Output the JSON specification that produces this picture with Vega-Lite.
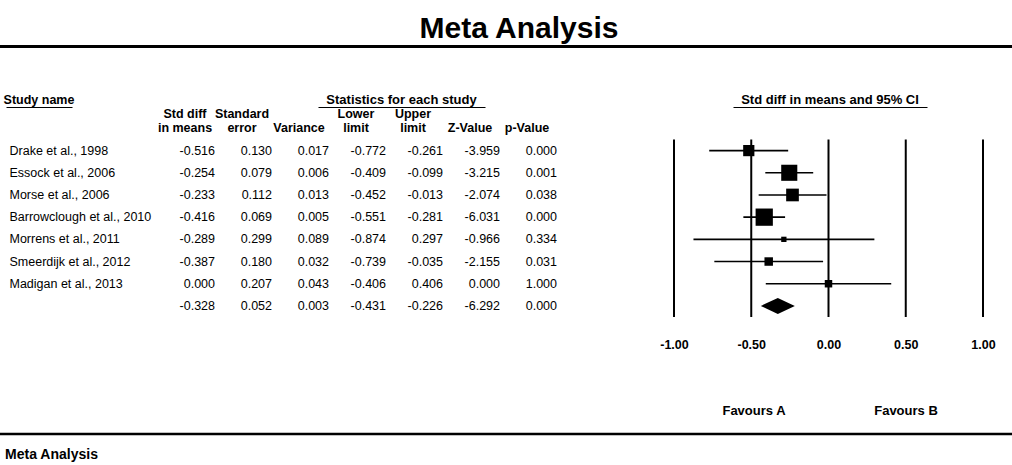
{
  "$schema": "https://vega.github.io/schema/vega-lite/v6.json",
  "width": 1012,
  "height": 465,
  "autosize": "none",
  "padding": 0,
  "background": "white",
  "config": {
    "font": "Liberation Sans",
    "view": {"stroke": null},
    "locale": {"number": {"decimal": ".", "thousands": ",", "grouping": [3], "currency": ["$", ""], "minus": "-"}},
    "text": {"color": "black"},
    "axis": {"labelColor": "black", "domainColor": "black"}
  },
  "title": {
    "text": "Meta Analysis",
    "fontSize": 30,
    "fontWeight": "bold",
    "font": "Liberation Sans",
    "color": "black",
    "anchor": "middle",
    "frame": "group",
    "orient": "top",
    "offset": -68,
    "baseline": "alphabetic",
    "dx": 13
  },
  "datasets": {
    "studies": [
      {"study": "Drake et al., 1998", "smd": -0.516, "se": 0.130, "variance": 0.017, "lower": -0.772, "upper": -0.261, "z": -3.959, "p": 0.000, "weight": 12.6},
      {"study": "Essock et al., 2006", "smd": -0.254, "se": 0.079, "variance": 0.006, "lower": -0.409, "upper": -0.099, "z": -3.215, "p": 0.001, "weight": 25.9},
      {"study": "Morse et al., 2006", "smd": -0.233, "se": 0.112, "variance": 0.013, "lower": -0.452, "upper": -0.013, "z": -2.074, "p": 0.038, "weight": 16.1},
      {"study": "Barrowclough et al., 2010", "smd": -0.416, "se": 0.069, "variance": 0.005, "lower": -0.551, "upper": -0.281, "z": -6.031, "p": 0.000, "weight": 29.8},
      {"study": "Morrens et al., 2011", "smd": -0.289, "se": 0.299, "variance": 0.089, "lower": -0.874, "upper": 0.297, "z": -0.966, "p": 0.334, "weight": 2.8},
      {"study": "Smeerdijk et al., 2012", "smd": -0.387, "se": 0.180, "variance": 0.032, "lower": -0.739, "upper": -0.035, "z": -2.155, "p": 0.031, "weight": 7.2},
      {"study": "Madigan et al., 2013", "smd": 0.000, "se": 0.207, "variance": 0.043, "lower": -0.406, "upper": 0.406, "z": 0.000, "p": 1.000, "weight": 5.6},
      {"study": "", "smd": -0.328, "se": 0.052, "variance": 0.003, "lower": -0.431, "upper": -0.226, "z": -6.292, "p": 0.000}
    ],
    "refs": [{"v": -1}, {"v": -0.5}, {"v": 0}, {"v": 0.5}, {"v": 1}],
    "columns": [
      {"key": "smd", "label": ["Std diff", "in means"]},
      {"key": "se", "label": ["Standard", "error"]},
      {"key": "variance", "label": ["", "Variance"]},
      {"key": "lower", "label": ["Lower", "limit"]},
      {"key": "upper", "label": ["Upper", "limit"]},
      {"key": "z", "label": ["", "Z-Value"]},
      {"key": "p", "label": ["", "p-Value"]}
    ]
  },
  "layer": [
    {
      "encoding": {
        "y": {
          "field": "study", "type": "nominal", "sort": null,
          "scale": {"type": "band", "domain": ["Drake et al., 1998", "Essock et al., 2006", "Morse et al., 2006", "Barrowclough et al., 2010", "Morrens et al., 2011", "Smeerdijk et al., 2012", "Madigan et al., 2013", ""], "range": [139.5, 317], "paddingInner": 0, "paddingOuter": 0},
          "axis": {"orient": "left", "title": null, "domain": false, "ticks": false, "tickSize": 0, "grid": false, "labelAlign": "left", "labelPadding": -9, "labelFontSize": 12.5, "labelColor": "black", "labelLimit": 400}
        }
      },
      "layer": [
        {
          "data": {"name": "studies"},
          "transform": [{"fold": ["smd", "se", "variance", "lower", "upper", "z", "p"], "as": ["key", "value"]}],
          "mark": {"type": "text", "align": "right", "baseline": "middle", "fontSize": 12.5, "color": "black"},
          "encoding": {
            "x": {"field": "key", "type": "nominal", "sort": null, "scale": {"type": "point", "domain": ["smd", "se", "variance", "lower", "upper", "z", "p"], "range": [215, 557], "padding": 0}, "axis": null},
            "text": {"field": "value", "type": "quantitative", "format": ".3f"}
          }
        },
        {
          "layer": [
            {
              "data": {"name": "refs"},
              "mark": {"type": "rule", "color": "black", "strokeWidth": 2},
              "encoding": {
                "x": {"field": "v", "type": "quantitative", "scale": {"domain": [-1, 1], "range": [674, 983], "zero": false, "nice": false},
                  "axis": {"orient": "bottom", "offset": -131, "values": [-1, -0.5, 0, 0.5, 1], "format": ".2f", "domain": false, "ticks": false, "grid": false, "title": null, "labelFontWeight": "bold", "labelFontSize": 12.5, "labelPadding": 4, "labelColor": "black", "labelFlush": false, "labelOverlap": false}},
                "y": {"datum": "Drake et al., 1998", "type": "nominal", "bandPosition": 0},
                "y2": {"datum": "", "bandPosition": 1}
              }
            },
            {
              "data": {"name": "studies"},
              "transform": [{"filter": "datum.study != ''"}],
              "mark": {"type": "rule", "color": "black", "strokeWidth": 1.6},
              "encoding": {
                "x": {"field": "lower", "type": "quantitative", "scale": {"domain": [-1, 1], "range": [674, 983], "zero": false, "nice": false}},
                "x2": {"field": "upper"}
              }
            },
            {
              "data": {"name": "studies"},
              "transform": [{"filter": "datum.study != ''"}],
              "mark": {"type": "point", "shape": "square", "filled": true, "color": "black", "opacity": 1, "strokeWidth": 0},
              "encoding": {
                "x": {"field": "smd", "type": "quantitative", "scale": {"domain": [-1, 1], "range": [674, 983], "zero": false, "nice": false}},
                "size": {"field": "weight", "type": "quantitative", "scale": {"domain": [0, 30], "range": [0, 300]}, "legend": null}
              }
            },
            {
              "data": {"name": "studies"},
              "transform": [{"filter": "datum.study == ''"}],
              "mark": {"type": "point", "shape": "M-1,0L0,-0.47L1,0L0,0.47Z", "filled": true, "color": "black", "opacity": 1, "strokeWidth": 0, "size": 1156},
              "encoding": {
                "x": {"field": "smd", "type": "quantitative", "scale": {"domain": [-1, 1], "range": [674, 983], "zero": false, "nice": false}}
              }
            }
          ]
        }
      ],
      "resolve": {"scale": {"x": "independent"}, "axis": {"x": "independent"}}
    },
    {
      "layer": [
        {
          "data": {"values": [{}]},
          "mark": {"type": "rule", "color": "black", "strokeWidth": 3},
          "encoding": {"y": {"datum": -3.69, "type": "quantitative", "scale": {"domain": [0.5, 8.5], "range": [139.5, 317], "zero": false, "nice": false}, "axis": null}}
        },
        {
          "data": {"values": [{}]},
          "mark": {"type": "rule", "color": "black", "strokeWidth": 2.5},
          "encoding": {"y": {"datum": 13.77, "type": "quantitative", "scale": {"domain": [0.5, 8.5], "range": [139.5, 317], "zero": false, "nice": false}, "axis": null}}
        },
        {
          "data": {"values": [{"section": "Study name"}]},
          "mark": {"type": "text", "fontWeight": "bold", "fontSize": 12.5, "baseline": "alphabetic", "align": "center"},
          "encoding": {
            "x": {"field": "section", "type": "nominal", "scale": {"type": "point", "range": [6, 72]}, "axis": {"orient": "top", "offset": -107, "domain": true, "domainColor": "black", "domainWidth": 1, "labels": false, "ticks": false, "grid": false, "title": null}},
            "y": {"datum": -1.1, "type": "quantitative", "scale": {"domain": [0.5, 8.5], "range": [139.5, 317], "zero": false, "nice": false}, "axis": null},
            "text": {"field": "section"}
          }
        },
        {
          "data": {"values": [{"section": "Statistics for each study"}]},
          "mark": {"type": "text", "fontWeight": "bold", "fontSize": 13, "baseline": "alphabetic", "align": "center"},
          "encoding": {
            "x": {"field": "section", "type": "nominal", "scale": {"type": "point", "range": [318, 485]}, "axis": {"orient": "top", "offset": -107, "domain": true, "domainColor": "black", "domainWidth": 1, "labels": false, "ticks": false, "grid": false, "title": null}},
            "y": {"datum": -1.1, "type": "quantitative", "scale": {"domain": [0.5, 8.5], "range": [139.5, 317], "zero": false, "nice": false}, "axis": null},
            "text": {"field": "section"}
          }
        },
        {
          "data": {"values": [{"section": "Std diff in means and 95% CI"}]},
          "mark": {"type": "text", "fontWeight": "bold", "fontSize": 13, "baseline": "alphabetic", "align": "center"},
          "encoding": {
            "x": {"field": "section", "type": "nominal", "scale": {"type": "point", "range": [733, 927]}, "axis": {"orient": "top", "offset": -107, "domain": true, "domainColor": "black", "domainWidth": 1, "labels": false, "ticks": false, "grid": false, "title": null}},
            "y": {"datum": -1.1, "type": "quantitative", "scale": {"domain": [0.5, 8.5], "range": [139.5, 317], "zero": false, "nice": false}, "axis": null},
            "text": {"field": "section"}
          }
        },
        {
          "data": {"name": "columns"},
          "mark": {"type": "text", "fontWeight": "bold", "fontSize": 12.5, "lineHeight": 14, "baseline": "alphabetic", "align": "center"},
          "encoding": {
            "x": {"field": "key", "type": "nominal", "sort": null, "scale": {"type": "point", "domain": ["smd", "se", "variance", "lower", "upper", "z", "p"], "range": [185, 527], "padding": 0}, "axis": null},
            "y": {"datum": -0.49, "type": "quantitative", "scale": {"domain": [0.5, 8.5], "range": [139.5, 317], "zero": false, "nice": false}, "axis": null},
            "text": {"field": "label"}
          }
        },
        {
          "data": {"values": [{"side": "Favours A"}, {"side": "Favours B"}]},
          "mark": {"type": "text", "fontWeight": "bold", "fontSize": 13, "baseline": "alphabetic", "align": "center"},
          "encoding": {
            "x": {"field": "side", "type": "nominal", "sort": null, "scale": {"type": "point", "domain": ["Favours A", "Favours B"], "range": [754, 906], "padding": 0}, "axis": null},
            "y": {"datum": 12.92, "type": "quantitative", "scale": {"domain": [0.5, 8.5], "range": [139.5, 317], "zero": false, "nice": false}, "axis": null},
            "text": {"field": "side"}
          }
        },
        {
          "data": {"values": [{"caption": "Meta Analysis"}]},
          "mark": {"type": "text", "fontWeight": "bold", "fontSize": 14, "baseline": "alphabetic", "align": "center"},
          "encoding": {
            "x": {"field": "caption", "type": "nominal", "scale": {"type": "point", "range": [5, 98]}, "axis": null},
            "y": {"datum": 14.9, "type": "quantitative", "scale": {"domain": [0.5, 8.5], "range": [139.5, 317], "zero": false, "nice": false}, "axis": null},
            "text": {"field": "caption"}
          }
        }
      ],
      "resolve": {"scale": {"x": "independent"}, "axis": {"x": "independent"}}
    }
  ],
  "resolve": {"scale": {"x": "independent", "y": "independent"}, "axis": {"x": "independent", "y": "independent"}}
}
